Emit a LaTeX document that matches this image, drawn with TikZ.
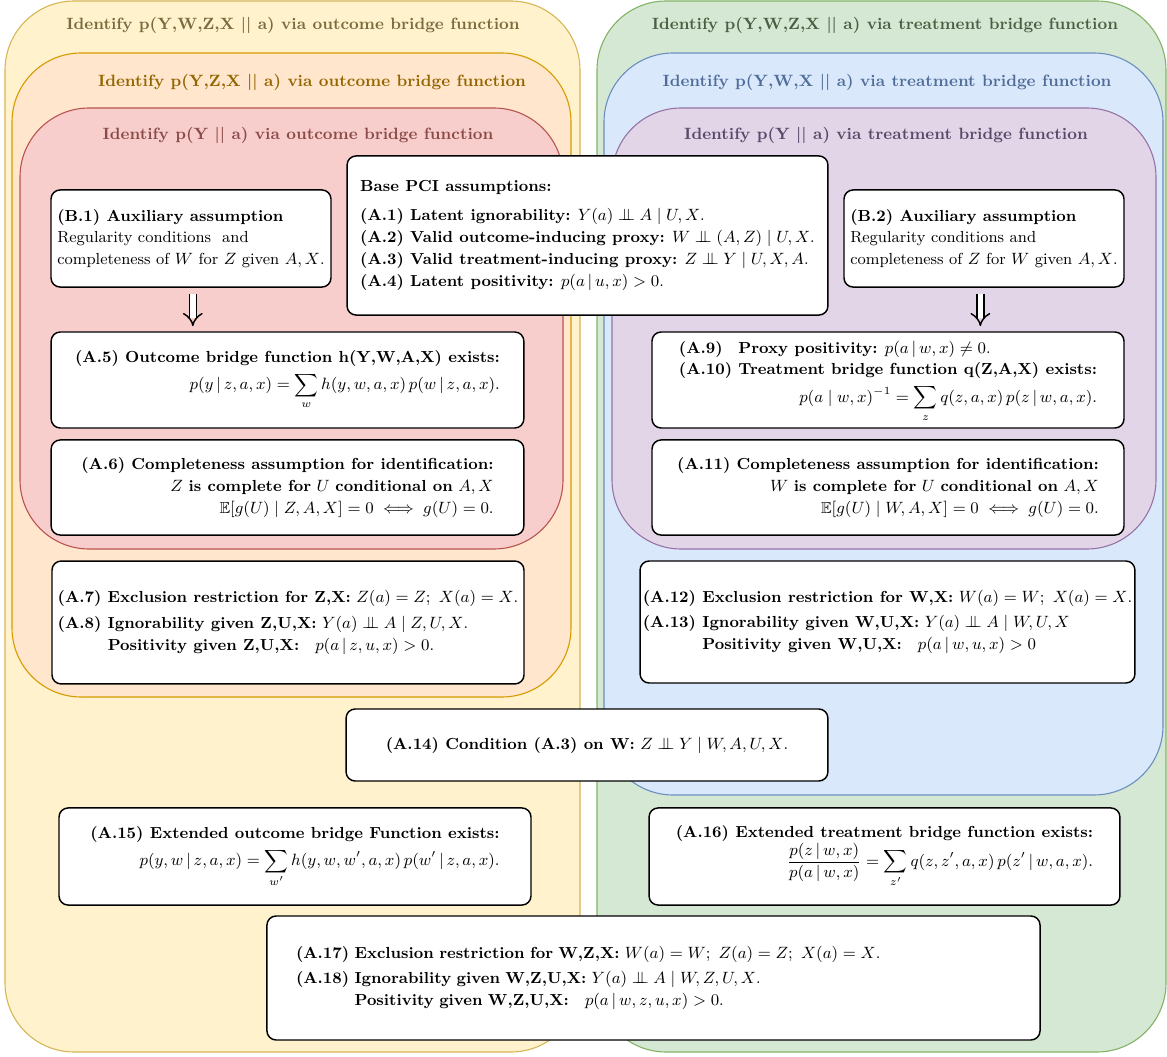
\documentclass[tikz,border=0pt]{standalone}
\usepackage{amsmath,amssymb}
\usetikzlibrary{arrows.meta}

\definecolor{yelfill}{HTML}{FFF2CC}\definecolor{yeldraw}{HTML}{D6B656}\definecolor{yeltxt}{HTML}{7A6A3E}
\definecolor{grnfill}{HTML}{D5E8D4}\definecolor{grndraw}{HTML}{82B366}\definecolor{grntxt}{HTML}{4A5E42}
\definecolor{orgfill}{HTML}{FFE6CC}\definecolor{orgdraw}{HTML}{D79B00}\definecolor{orgtxt}{HTML}{946500}
\definecolor{blufill}{HTML}{DAE8FC}\definecolor{bludraw}{HTML}{6C8EBF}\definecolor{blutxt}{HTML}{4F6D98}
\definecolor{redfill}{HTML}{F8CECC}\definecolor{reddraw}{HTML}{B85450}\definecolor{redtxt}{HTML}{8A4A48}
\definecolor{purfill}{HTML}{E1D5E7}\definecolor{purdraw}{HTML}{9673A6}\definecolor{purtxt}{HTML}{5A4869}

\newcommand{\indep}{\mathrel{\perp\mkern-10mu\perp}}
\newcommand{\cbar}{\,|\,}

\begin{document}
\begin{tikzpicture}[x=0.55pt, y=-0.55pt,
	frame/.style={line width=0.6pt, rounded corners=38pt},
	ttl/.style={font=\fontsize{9}{12}\selectfont\bfseries, inner sep=0pt},
	box/.style={draw=black, fill=white, line width=0.8pt, rounded corners=5pt, inner sep=0pt, font=\fontsize{8.8}{12}\selectfont},
	dbl/.style={double, double distance=3pt, line width=0.8pt, -{Implies}}]
	\useasboundingbox (0,0) rectangle (1167,1057);
	
	%Rahmen
	\draw[frame, fill=yelfill, draw=yeldraw] (5,1) rectangle (580,1052);
	\draw[frame, fill=grnfill, draw=grndraw] (597,1) rectangle (1166,1052);
	\draw[frame, fill=orgfill, draw=orgdraw] (12,53) rectangle (571,697);
	\draw[frame, fill=blufill, draw=bludraw] (604,53) rectangle (1163,795);
	\draw[frame, fill=redfill, draw=reddraw] (20,108) rectangle (563,549);
	\draw[frame, fill=purfill, draw=purdraw] (612,108) rectangle (1156,549);
	
	%Titel
	\node[ttl, text=yeltxt] (tyel) at (293,25) {Identify p(Y,W,Z,X || a) via outcome bridge function};
	\node[ttl, text=grntxt] (tgrn) at (885,25) {Identify p(Y,W,Z,X || a) via treatment bridge function};
	\node[ttl, text=orgtxt] (torg) at (312,82) {Identify p(Y,Z,X || a) via outcome bridge function};
	\node[ttl, text=blutxt] (tblu) at (887,82) {Identify p(Y,W,X || a) via treatment bridge function};
	\node[ttl, text=redtxt] (tred) at (298,135) {Identify p(Y || a) via outcome bridge function};
	\node[ttl, text=purtxt] (tpur) at (886,135) {Identify p(Y || a) via treatment bridge function};
	
	%Basis
	\node[box, minimum width=264.5pt, minimum height=87.5pt, align=left] (base) at (587.5,235.5) {
		\textbf{Base PCI assumptions:}\\[4pt]
		\textbf{(A.1) Latent ignorability:} $Y(a)\indep A\mid U,X$.\\
		\textbf{(A.2) Valid outcome-inducing proxy:} $W\indep (A,Z)\mid U,X$.\\
		\textbf{(A.3) Valid treatment-inducing proxy:} $Z\indep Y\mid U,X,A$.\\
		\textbf{(A.4) Latent positivity:} $p(a\cbar u,x)>0$.};
	
	%Hilfsannahmen
	\node[box, minimum width=154pt, minimum height=53.4pt, align=left] (b1) at (191,238.5) {
		\textbf{(B.1) Auxiliary assumption}\\
		Regularity conditions\ \ and\\
		completeness of $W$ for $Z$ given $A,X$.};
	\node[box, minimum width=154pt, minimum height=53.4pt, align=left] (b2) at (984,238.5) {
		\textbf{(B.2) Auxiliary assumption}\\
		Regularity conditions and\\
		completeness of $Z$ for $W$ given $A,X$.};
	
	%outcome Seite
	\node[box, minimum width=260pt, minimum height=52.8pt, align=right] (a5) at (287.5,380) {
		\textbf{(A.5) Outcome bridge function h(Y,W,A,X) exists:}\\[3pt]
		$\displaystyle p(y\cbar z,a,x)=\sum_{w} h(y,w,a,x)\,p(w\cbar z,a,x).$};
	\node[box, minimum width=260pt, minimum height=52.3pt, align=right] (a6) at (287.5,487.5) {
		\textbf{(A.6) Completeness assumption for identification:}\\
		$Z$ \textbf{is complete for} $U$ \textbf{conditional on} $A,X$\\
		$\mathbb{E}[g(U)\mid Z,A,X]=0\iff g(U)=0.$};
	\node[box, minimum width=259.6pt, minimum height=67.6pt, align=left] (a7) at (288,622.5) {
		\textbf{(A.7) Exclusion restriction for Z,X:} $Z(a)=Z;\ X(a)=X$.\\[2pt]
		\textbf{(A.8) Ignorability given Z,U,X:} $Y(a)\indep A\mid Z,U,X$.\\
		\hphantom{\textbf{(A.8) }}\textbf{Positivity given Z,U,X:}\quad $p(a\cbar z,u,x)>0$.};
	
	%treatment Seite
	\node[box, minimum width=259.6pt, minimum height=52.8pt] (a9) at (888,380) {
		\begin{tabular}{@{}l@{}}
		\textbf{\rlap{(A.9)}\phantom{(A.10)} Proxy positivity:} $p(a\cbar w,x)\neq 0$.\\
		\textbf{(A.10) Treatment bridge function q(Z,A,X) exists:}\\[2pt]
		\multicolumn{1}{@{}r@{}}{$\displaystyle p(a\mid w,x)^{-1}=\sum_{z} q(z,a,x)\,p(z\cbar w,a,x).$}
		\end{tabular}};
	\node[box, minimum width=259.6pt, minimum height=52.3pt, align=right] (a11) at (888,487.5) {
		\textbf{(A.11) Completeness assumption for identification:}\\
		$W$ \textbf{is complete for} $U$ \textbf{conditional on} $A,X$\\
		$\mathbb{E}[g(U)\mid W,A,X]=0\iff g(U)=0.$};
	\node[box, minimum width=272.2pt, minimum height=67.1pt, align=left] (a12) at (887.5,622) {
		\textbf{(A.12) Exclusion restriction for W,X:} $W(a)=W;\ X(a)=X$.\\[2pt]
		\textbf{(A.13) Ignorability given W,U,X:} $Y(a)\indep A\mid W,U,X$\\
		\hphantom{\textbf{(A.13) }}\textbf{Positivity given W,U,X:}\quad $p(a\cbar w,u,x)>0$};
	
	%gemeinsame Annahmen
	\node[box, minimum width=265pt, minimum height=39.6pt] (a14) at (587,745) {
		\textbf{(A.14) Condition (A.3) on W:} $Z\indep Y\mid W,A,U,X$.};
	\node[box, minimum width=259.6pt, minimum height=53.4pt, align=right] (a15) at (295,856.5) {
		\textbf{(A.15) Extended outcome bridge Function exists:}\\[3pt]
		$\displaystyle p(y,w\cbar z,a,x)=\sum_{w'} h(y,w,w',a,x)\,p(w'\cbar z,a,x).$};
	\node[box, minimum width=259pt, minimum height=53.4pt, align=right] (a16) at (884.5,856.5) {
		\textbf{(A.16) Extended treatment bridge function exists:}\\
		$\displaystyle \frac{p(z\cbar w,x)}{p(a\cbar w,x)}=\sum_{z'} q(z,z',a,x)\,p(z'\cbar w,a,x).$};
	\node[box, text width=393.2pt, inner xsep=16pt, minimum height=68.2pt, align=left] (a17) at (653.5,978) {
		\textbf{(A.17) Exclusion restriction for W,Z,X:} $W(a)=W;\ Z(a)=Z;\ X(a)=X$.\\[2pt]
		\textbf{(A.18) Ignorability given W,Z,U,X:} $Y(a)\indep A\mid W,Z,U,X$.\\
		\hphantom{\textbf{(A.18) }}\textbf{Positivity given W,Z,U,X:}\quad $p(a\cbar w,z,u,x)>0$.};
	
	%Folgerungen
	\draw[dbl, shorten <=3.3pt, shorten >=2.8pt] ([xshift=1pt]b1.south) -- ([xshift=1pt]b1.south |- a5.north);
	\draw[dbl, shorten <=3.3pt, shorten >=2.8pt] ([xshift=-2pt]b2.south) -- ([xshift=-2pt]b2.south |- a9.north);
\end{tikzpicture}
\end{document}
